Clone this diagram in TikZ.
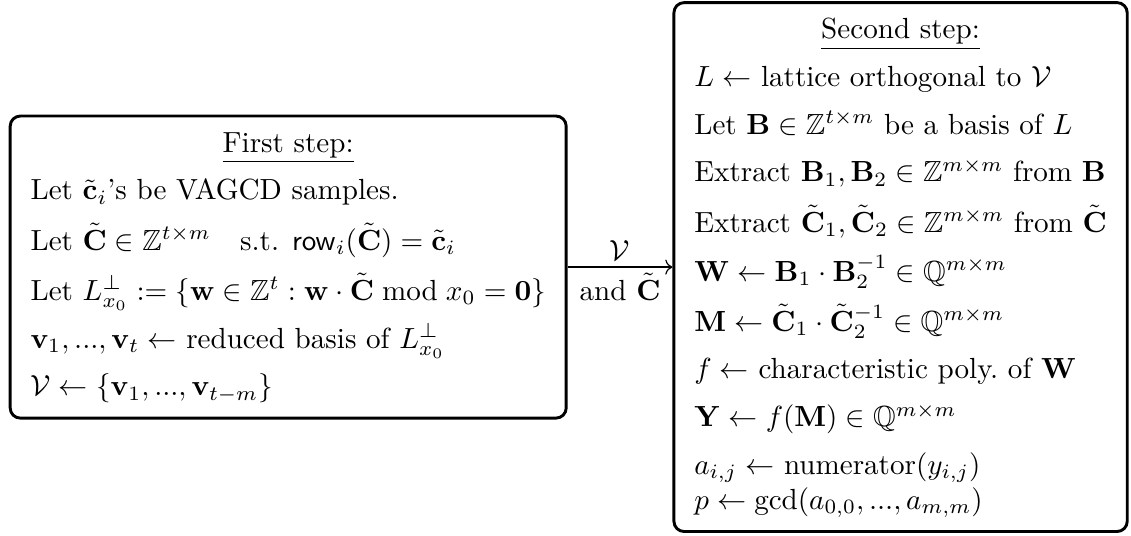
\documentclass[tikz,border=0pt]{standalone}
\usepackage{amsmath}
\usepackage{amssymb}
\usetikzlibrary{arrows.meta, positioning, calc}

\begin{document}
\begin{tikzpicture}[
  stepbox/.style = {draw, line width=1pt, rounded corners=3.5pt,
                    inner xsep=7pt, inner ysep=4pt, align=left},
  arr/.style     = {->, line width=0.4pt},
  lbl/.style     = {inner sep=2pt},
]

\node[stepbox] (first) at (0,0) {%
  \begin{tabular}{@{}l@{}}
  \multicolumn{1}{@{}c@{}}{\underline{First step:}}\\[4.4pt]
  Let $\tilde{\mathbf{c}}_i$'s be VAGCD samples.\\[4.4pt]
  Let $\tilde{\mathbf{C}}\in\mathbb{Z}^{t\times m}$\quad s.t. $\mathsf{row}_i(\tilde{\mathbf{C}})=\tilde{\mathbf{c}}_i$\\[4.4pt]
  Let $L_{x_0}^{\perp}:=\{\mathbf{w}\in\mathbb{Z}^t:\mathbf{w}\cdot\tilde{\mathbf{C}}\bmod x_0=\mathbf{0}\}$\\[4.4pt]
  $\mathbf{v}_1,...,\mathbf{v}_t\leftarrow$ reduced basis of $L_{x_0}^{\perp}$\\[4.4pt]
  $\mathcal{V}\leftarrow\{\mathbf{v}_1,...,\mathbf{v}_{t-m}\}$
  \end{tabular}};

\node[stepbox, right=36pt of first] (second) {%
  \begin{tabular}{@{}l@{}}
  \multicolumn{1}{@{}c@{}}{\underline{Second step:}}\\[4.4pt]
  $L\leftarrow$ lattice orthogonal to $\mathcal{V}$\\[4.4pt]
  Let $\mathbf{B}\in\mathbb{Z}^{t\times m}$ be a basis of $L$\\[4.4pt]
  Extract $\mathbf{B}_1,\mathbf{B}_2\in\mathbb{Z}^{m\times m}$ from $\mathbf{B}$\\[4.4pt]
  Extract $\tilde{\mathbf{C}}_1,\tilde{\mathbf{C}}_2\in\mathbb{Z}^{m\times m}$ from $\tilde{\mathbf{C}}$\\[4.4pt]
  $\mathbf{W}\leftarrow\mathbf{B}_1\cdot\mathbf{B}_2^{-1}\in\mathbb{Q}^{m\times m}$\\[4.4pt]
  $\mathbf{M}\leftarrow\tilde{\mathbf{C}}_1\cdot\tilde{\mathbf{C}}_2^{-1}\in\mathbb{Q}^{m\times m}$\\[4.4pt]
  $f\leftarrow$ characteristic poly.\ of $\mathbf{W}$\\[4.4pt]
  $\mathbf{Y}\leftarrow f(\mathbf{M})\in\mathbb{Q}^{m\times m}$\\[4.4pt]
  $a_{i,j}\leftarrow$ numerator$(y_{i,j})$\\
  $p\leftarrow\gcd(a_{0,0},...,a_{m,m})$
  \end{tabular}};

\draw[arr] (first) -- node[lbl, above]{$\mathcal{V}$}
                      node[lbl, below]{and $\tilde{\mathbf{C}}$} (second);

% margins
\pgfresetboundingbox
\useasboundingbox ($(first.west |- second.north)+(-3pt,0.4pt)$)
                  rectangle ($(second.south east)+(0.8pt,-0.8pt)$);

\end{tikzpicture}
\end{document}
